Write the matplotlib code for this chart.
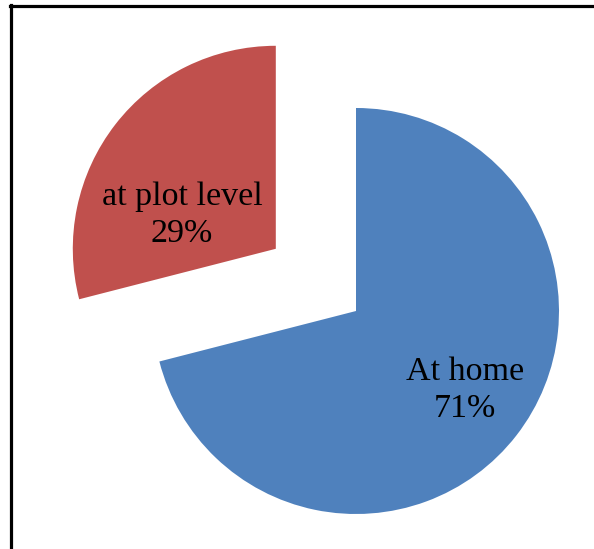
import matplotlib.pyplot as plt
from matplotlib.lines import Line2D

# Share of activities by location
labels = ["At home", "at plot level"]
shares = [71, 29]
colors = ["#4F81BD", "#C0504D"]
explode = [0, 0.5]

fig = plt.figure(figsize=(5.94, 5.49), dpi=100)
ax = fig.add_axes([0, 0, 1, 1])

wedges, _ = ax.pie(shares, colors=colors, explode=explode, startangle=90,
                   counterclock=False, radius=1.0,
                   wedgeprops=dict(linewidth=0))

# pie centre sits right of middle, radius ~203 px
r_px = 203.0
cx, cy = 356.0, 311.0
ax.set_xlim(-cx / r_px, (594 - cx) / r_px)
ax.set_ylim(-(549 - cy) / r_px, cy / r_px)
ax.set_aspect("auto")
ax.axis("off")

# slice labels
label_pos = [(0.537, -0.389), (-0.857, 0.473)]
for name, val, (x, y) in zip(labels, shares, label_pos):
    ax.text(x, y, f"{name}\n{val}%", ha="center", va="center",
            fontsize=24.5, family="Liberation Serif", color="black",
            linespacing=1.28)

# outer frame (top and left edges)
fig.add_artist(Line2D([10 / 594, 1.0], [1 - 6 / 549, 1 - 6 / 549],
                      color="black", linewidth=2.3, transform=fig.transFigure))
fig.add_artist(Line2D([11 / 594, 11 / 594], [0.0, 1 - 5 / 549],
                      color="black", linewidth=2.3, transform=fig.transFigure))

fig.savefig("out.png", dpi=100)
